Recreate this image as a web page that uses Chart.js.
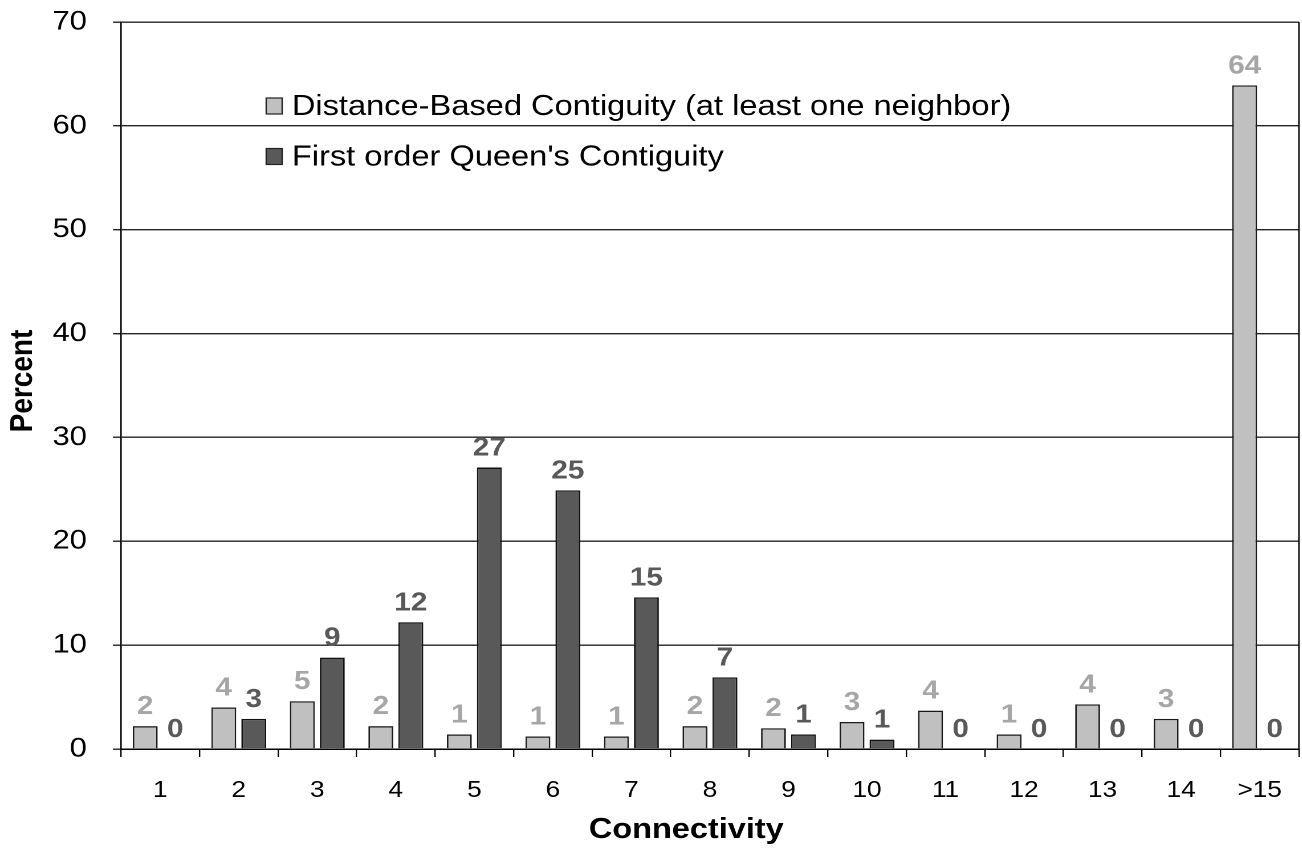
<!DOCTYPE html>
<html>
<head>
<meta charset="utf-8">
<script src="https://cdn.jsdelivr.net/npm/chart.js@4.4.1/dist/chart.umd.min.js"></script>
<style>
  html, body { margin: 0; padding: 0; background: #ffffff; overflow: hidden; width: 1302px; height: 848px; }
  #wrap { width: 1142px; height: 848px; position: relative; transform: scaleX(1.14); transform-origin: 0 0; }
</style>
</head>
<body>
<div id="wrap"><canvas id="c"></canvas></div>
<script>
const categories = ['1','2','3','4','5','6','7','8','9','10','11','12','13','14','>15'];
const distanceBased = [2.2, 4.0, 4.6, 2.2, 1.4, 1.2, 1.2, 2.2, 2.0, 2.6, 3.7, 1.4, 4.3, 2.9, 63.9];
const queenFirstOrder = [0, 2.9, 8.8, 12.2, 27.1, 24.9, 14.6, 6.9, 1.4, 0.9, 0, 0, 0, 0, 0];
const seriesNames = ['Distance-Based Contiguity (at least one neighbor)', "First order Queen's Contiguity"];
const yTicks = [0, 10, 20, 30, 40, 50, 60, 70];
const xTitle = 'Connectivity';
const yTitle = 'Percent';

const FONT = '"Liberation Sans", Arial, Helvetica, sans-serif';
const labelColors = ['#a6a6a6', '#595959'];

const valueLabels = {
  id: 'valueLabels',
  afterDatasetsDraw(chart) {
    const ctx = chart.ctx;
    ctx.save();
    ctx.font = 'bold 26px ' + FONT;
    ctx.textAlign = 'center';
    ctx.textBaseline = 'alphabetic';
    chart.data.datasets.forEach((ds, di) => {
      const meta = chart.getDatasetMeta(di);
      ctx.fillStyle = labelColors[di];
      meta.data.forEach((bar, i) => {
        ctx.fillText(String(Math.round(ds.data[i])), bar.x, bar.y - 12);
      });
    });
    ctx.restore();
  }
};

const frameLegendTitles = {
  id: 'frameLegendTitles',
  afterDraw(chart) {
    const ctx = chart.ctx;
    const a = chart.chartArea;
    ctx.save();
    ctx.strokeStyle = '#000';
    ctx.lineWidth = 1.3;
    ctx.beginPath();
    ctx.moveTo(a.right, a.top);
    ctx.lineTo(a.right, a.bottom);
    ctx.stroke();
    // legend
    const items = chart.data.datasets;
    const x0 = 233.5, rows = [106, 156.5];
    ctx.font = '28.6px ' + FONT;
    ctx.textBaseline = 'middle';
    ctx.textAlign = 'left';
    items.forEach((ds, i) => {
      const cy = rows[i];
      ctx.fillStyle = ds.backgroundColor;
      ctx.fillRect(x0, cy - 8, 14, 16);
      ctx.lineWidth = 1.2;
      ctx.strokeStyle = '#222';
      ctx.strokeRect(x0, cy - 8, 14, 16);
      ctx.fillStyle = '#000';
      ctx.fillText(ds.label, x0 + 22.5, cy + 1);
    });
    // axis titles
    ctx.fillStyle = '#000';
    ctx.textAlign = 'center';
    ctx.textBaseline = 'middle';
    ctx.font = 'bold 28.5px ' + FONT;
    ctx.fillText(xTitle, 602, 830);
    ctx.save();
    ctx.translate(19.5, 381);
    ctx.rotate(-Math.PI / 2);
    ctx.font = 'bold 28px ' + FONT;
    ctx.fillText(yTitle, 0, 1);
    ctx.restore();
    ctx.restore();
  }
};

new Chart(document.getElementById('c'), {
  type: 'bar',
  data: {
    labels: categories,
    datasets: [
      { label: seriesNames[0], data: distanceBased, backgroundColor: '#c0c0c0', borderColor: '#1a1a1a', borderWidth: 1.4 },
      { label: seriesNames[1], data: queenFirstOrder, backgroundColor: '#595959', borderColor: '#111111', borderWidth: 1.4 }
    ]
  },
  options: {
    responsive: true,
    maintainAspectRatio: false,
    animation: false,
    devicePixelRatio: 2,
    layout: { padding: { top: 22, right: 2.6, left: 0, bottom: 0 } },
    datasets: { bar: { categoryPercentage: 0.764, barPercentage: 0.83 } },
    plugins: { legend: { display: false }, tooltip: { enabled: false } },
    scales: {
      x: {
        grid: { drawOnChartArea: false, drawTicks: true, tickLength: 8, color: '#000', lineWidth: 1.2, offset: true },
        border: { display: true, color: '#000', width: 1.5 },
        ticks: { color: '#000', font: { family: FONT, size: 23 }, padding: 20, maxRotation: 0, autoSkip: false },
        title: { display: false },
        afterFit(scale) { scale.height = 99; scale.paddingLeft = 0; scale.paddingRight = 0; }
      },
      y: {
        min: 0, max: 70,
        afterBuildTicks(scale) { scale.ticks = yTicks.map(v => ({ value: v })); },
        grid: { color: '#222', lineWidth: 1.4, drawTicks: true, tickLength: 7 },
        border: { display: true, color: '#000', width: 1.3 },
        ticks: { color: '#000', font: { family: FONT, size: 27 }, padding: 23 },
        title: { display: false },
        afterFit(scale) { scale.width = 106.1; scale.paddingTop = 0; scale.paddingBottom = 0; }
      }
    }
  },
  plugins: [valueLabels, frameLegendTitles]
});
</script>
</body>
</html>
